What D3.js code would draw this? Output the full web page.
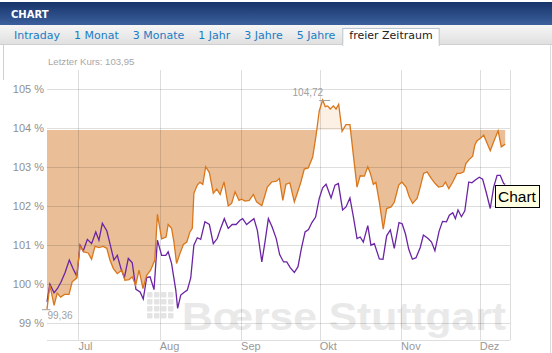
<!DOCTYPE html>
<html lang="de">
<head>
<meta charset="utf-8">
<script src="https://cdnjs.cloudflare.com/ajax/libs/d3/7.8.5/d3.min.js"></script>
<style>
  body { margin: 0; background: #fff; }
  svg { display: block; }
</style>
</head>
<body>
<script>
// tabs and axis labels
const tabs = ["Intraday", "1 Monat", "3 Monate", "1 Jahr", "3 Jahre", "5 Jahre", "freier Zeitraum"];
const activeTab = "freier Zeitraum";
const months = ["Jul", "Aug", "Sep", "Okt", "Nov", "Dez"];
const monthDays = [12, 43, 74, 104, 135, 165];   // days since 19 June
const yTicks = [99, 100, 101, 102, 103, 104, 105];
const lastPrice = 103.95;

// [days since 19 June, value in %]
const orange = [
  [0,99.36],[1.1,99.97],[2.7,99.46],[3.9,99.77],[5.2,99.67],[6.7,99.74],[8.4,99.74],[9.6,100.06],
  [11.2,100.15],[12.6,100.97],[14.1,100.83],[15.7,100.80],[17.0,100.64],[18.3,100.97],[19.8,100.94],
  [21.4,100.97],[22.8,100.92],[24.0,100.62],[25.3,100.40],[26.8,100.27],[28.5,100.36],[29.7,100.10],
  [31.3,100.12],[32.5,100.19],[33.8,99.97],[35.1,100.36],[36.6,99.89],[38.0,100.23],[39.5,100.36],
  [41.1,100.62],[42.1,101.79],[43.7,101.16],[45.4,101.21],[46.2,101.53],[47.5,101.43],[48.4,101.08],
  [49.4,100.53],[50.7,100.79],[52.0,101.02],[53.3,101.08],[54.5,101.34],[55.4,101.43],[56.0,102.33],
  [57.3,102.54],[58.3,102.61],[59.4,102.56],[60.5,103.01],[61.9,102.86],[63.4,102.33],[64.7,102.44],
  [66.0,102.30],[67.5,102.62],[69.1,102.01],[70.4,102.07],[71.7,102.37],[73.2,102.15],[74.2,102.18],
  [75.5,102.13],[77.1,102.15],[78.7,102.30],[79.9,102.11],[81.9,102.01],[83.1,102.28],[84.0,102.49],
  [85.7,102.62],[87.5,102.64],[88.6,102.71],[89.9,102.15],[91.1,102.56],[92.6,102.60],[94.3,102.11],
  [95.6,102.37],[96.8,102.62],[98.1,102.95],[99.6,102.98],[101.3,103.26],[102.6,103.82],[103.8,104.44],
  [105.1,104.72],[106.1,104.55],[107.0,104.57],[108.0,104.49],[109.2,104.57],[110.2,104.49],[111.2,104.61],
  [112.5,103.92],[114.0,104.09],[115.5,104.09],[116.8,103.31],[118.2,102.49],[119.4,102.78],[121.0,102.77],
  [122.3,103.01],[123.3,102.84],[124.4,102.56],[125.4,102.61],[126.7,102.11],[128.2,101.41],[129.5,101.94],
  [131.2,101.98],[132.4,102.10],[134.1,102.54],[135.3,102.62],[136.9,102.49],[138.1,102.24],[139.4,102.07],
  [141.1,102.20],[142.3,102.49],[143.6,102.84],[144.9,102.88],[146.5,102.71],[148.0,102.58],[149.3,102.49],
  [150.9,102.51],[151.9,102.62],[153.2,102.45],[154.7,102.62],[156.3,102.84],[157.6,102.84],[158.9,102.88],
  [159.7,103.09],[161.0,103.20],[162.3,103.28],[163.1,103.56],[163.9,103.67],[165.6,103.76],[166.5,103.82],
  [167.8,103.61],[169.0,103.42],[170.3,103.65],[172.0,103.93],[173.2,103.52],[174.7,103.59]
];

const purple = [
  [0,99.55],[1.1,100.00],[2.7,99.78],[4.0,99.89],[5.3,100.05],[6.9,100.30],[8.5,100.62],[9.9,100.40],
  [11.4,100.20],[12.6,101.00],[13.8,100.85],[15.4,101.15],[17.0,101.04],[18.6,101.34],[19.8,101.13],
  [21.1,101.56],[22.8,101.37],[24.0,101.04],[25.5,100.62],[26.8,100.74],[28.2,100.40],[29.5,100.17],
  [31.0,100.66],[32.5,100.55],[33.9,99.87],[35.5,99.80],[36.7,99.62],[38.0,100.17],[39.3,100.19],
  [40.8,99.86],[42.1,101.13],[43.7,100.74],[45.3,100.74],[46.2,100.83],[47.5,100.53],[49.1,99.85],
  [49.8,99.38],[51.0,99.72],[52.2,99.79],[53.5,99.85],[54.8,100.16],[56.0,101.00],[57.3,101.19],
  [58.6,101.15],[60.2,101.60],[61.9,101.53],[63.4,101.04],[64.9,101.17],[66.2,101.43],[67.6,101.68],
  [69.1,101.43],[70.6,101.53],[72.1,101.53],[73.6,101.64],[74.6,101.68],[76.1,101.53],[77.4,101.60],
  [78.9,101.68],[80.2,101.38],[81.9,100.57],[83.1,101.08],[84.4,101.68],[85.8,101.47],[87.4,101.17],
  [88.7,100.76],[90.2,100.57],[91.4,100.57],[92.8,100.42],[94.3,100.30],[95.7,100.45],[97.0,100.92],
  [98.4,101.34],[99.7,101.40],[101.0,101.58],[102.4,101.72],[103.8,102.20],[105.1,102.47],[106.4,102.56],
  [108.3,102.21],[109.8,102.54],[111.1,102.58],[112.7,101.90],[114.0,101.98],[115.5,102.21],[116.8,101.73],
  [118.2,101.17],[119.4,101.21],[120.6,101.08],[122.3,101.50],[123.5,101.00],[124.8,101.04],[126.7,100.65],
  [128.1,100.64],[129.5,101.24],[130.9,101.39],[132.4,100.92],[134.2,101.58],[135.4,101.55],[136.7,101.28],
  [137.9,100.90],[139.3,100.64],[140.7,100.68],[142.3,100.94],[143.5,101.26],[145.3,101.17],[146.6,101.08],
  [147.9,100.86],[149.5,101.36],[150.8,101.61],[152.3,101.60],[153.4,101.77],[154.7,101.83],[155.7,101.68],
  [156.7,101.90],[158.0,101.73],[159.3,101.88],[160.1,102.28],[160.8,102.62],[162.0,102.60],[163.3,102.67],
  [164.8,102.74],[166.1,102.69],[167.4,102.37],[169.0,101.94],[170.3,102.49],[171.6,102.79],[172.8,102.79],
  [174.1,102.58],[174.7,102.56]
];

const W = 552, H = 353;
const plot = { left: 47, right: 510, top: 70, bottom: 340 };

const svg = d3.select("body").append("svg")
  .attr("width", W)
  .attr("height", H);

const defs = svg.append("defs");

const hg = defs.append("linearGradient").attr("id", "headGrad")
  .attr("x1", 0).attr("y1", 0).attr("x2", 0).attr("y2", 1);
hg.append("stop").attr("offset", "0%").attr("stop-color", "#17336a");
hg.append("stop").attr("offset", "100%").attr("stop-color", "#3b609c");

const tg = defs.append("linearGradient").attr("id", "tabGrad")
  .attr("x1", 0).attr("y1", 0).attr("x2", 0).attr("y2", 1);
tg.append("stop").attr("offset", "0%").attr("stop-color", "#f6f6f6");
tg.append("stop").attr("offset", "100%").attr("stop-color", "#e0e0e0");

// header
svg.append("rect").attr("x", 0).attr("y", 2).attr("width", W).attr("height", 23)
  .attr("fill", "url(#headGrad)");
svg.append("text").attr("x", 11).attr("y", 17.5)
  .attr("font-family", "DejaVu Sans").attr("font-weight", "bold").attr("font-size", 10)
  .attr("fill", "#fff").text("CHART");

// tab bar
svg.append("rect").attr("x", 0).attr("y", 25).attr("width", W).attr("height", 19)
  .attr("fill", "url(#tabGrad)");
svg.append("line").attr("x1", 0).attr("x2", W).attr("y1", 44.5).attr("y2", 44.5)
  .attr("stroke", "#d0d0d0");

let tx = 14;
tabs.forEach(t => {
  const active = t === activeTab;
  const g = svg.append("g");
  const txt = g.append("text").attr("x", tx).attr("y", 39.3)
    .attr("font-family", "DejaVu Sans").attr("font-size", 11)
    .attr("fill", active ? "#222" : "#1a7cc4").text(t);
  const len = txt.node().getComputedTextLength();
  if (active) {
    g.insert("rect", "text").attr("x", tx - 6.5).attr("y", 28.5)
      .attr("width", len + 13).attr("height", 17)
      .attr("fill", "#fff").attr("stroke", "#b9c5cf");
    g.insert("rect", "text").attr("x", tx - 6).attr("y", 44).attr("width", len + 12).attr("height", 2)
      .attr("fill", "#fff");
  }
  tx += len + 14;
});

// frame lines of the box
svg.append("line").attr("x1", 3.5).attr("x2", 3.5).attr("y1", 45).attr("y2", 80).attr("stroke", "#cfcfcf");
svg.append("line").attr("x1", 550.5).attr("x2", 550.5).attr("y1", 45).attr("y2", H).attr("stroke", "#dcdcdc");

svg.append("text").attr("x", 48).attr("y", 65)
  .attr("font-family", "Liberation Sans").attr("font-size", 9.6)
  .attr("fill", "#a8a8a8").text("Letzter Kurs: " + d3.format(".2f")(lastPrice).replace(".", ","));

// scales
const x = d3.scaleLinear().domain([0, 175]).range([47, 506]);
const y = d3.scaleLinear().domain([98.57, 105.49]).range([plot.bottom, plot.top]);

// watermark
const wm = svg.append("g").attr("fill", "#e9e9e9");
d3.range(16).forEach(i => {
  wm.append("rect").attr("x", 147 + (i % 4) * 7).attr("y", 292 + Math.floor(i / 4) * 7)
    .attr("width", 5.5).attr("height", 5.5).attr("rx", 1).attr("fill", "#e4e4e4");
});
wm.append("text").attr("x", 182).attr("y", 330)
  .attr("font-family", "Liberation Sans").attr("font-weight", "bold").attr("font-size", 39)
  .attr("textLength", 324).attr("lengthAdjust", "spacingAndGlyphs")
  .text("Bœrse Stuttgart");

// area between orange line and last price level
const base = y(lastPrice);
defs.append("clipPath").attr("id", "below").append("rect")
  .attr("x", 0).attr("y", base).attr("width", W).attr("height", H);
defs.append("clipPath").attr("id", "above").append("rect")
  .attr("x", 0).attr("y", 0).attr("width", W).attr("height", base);

const area = d3.area().x(d => x(d[0])).y0(base).y1(d => y(d[1]));
svg.append("path").datum(orange).attr("d", area)
  .attr("fill", "#eabf97").attr("clip-path", "url(#below)");
svg.append("path").datum(orange).attr("d", area)
  .attr("fill", "#fcefe3").attr("clip-path", "url(#above)");

// grid
const grid = svg.append("g").attr("stroke", "rgba(0,0,0,0.13)").attr("stroke-width", 1);
yTicks.forEach(v => {
  const yy = Math.round(y(v)) + 0.5;
  grid.append("line").attr("x1", plot.left).attr("x2", plot.right).attr("y1", yy).attr("y2", yy);
});
monthDays.forEach(d => {
  const xx = Math.round(x(d)) + 0.5;
  grid.append("line").attr("x1", xx).attr("x2", xx).attr("y1", plot.top).attr("y2", plot.bottom);
});
grid.append("line").attr("x1", plot.left).attr("x2", plot.right)
  .attr("y1", plot.bottom + 0.5).attr("y2", plot.bottom + 0.5);
grid.append("line").attr("x1", plot.right + 0.5).attr("x2", plot.right + 0.5)
  .attr("y1", plot.top).attr("y2", plot.bottom);

// axis labels
svg.append("g").selectAll("text").data(yTicks).join("text")
  .attr("x", 44).attr("y", d => y(d) + 4)
  .attr("text-anchor", "end")
  .attr("font-family", "Liberation Sans").attr("font-size", 11).attr("fill", "#909090")
  .text(d => d + " %");

svg.append("g").selectAll("text").data(months).join("text")
  .attr("x", (d, i) => x(monthDays[i]))
  .attr("y", 350)
  .attr("font-family", "Liberation Sans").attr("font-size", 11).attr("fill", "#999")
  .text(d => d);

// lines
const line = d3.line().x(d => x(d[0])).y(d => y(d[1]));
svg.append("path").datum(purple).attr("d", line)
  .attr("fill", "none").attr("stroke", "#6a24a4").attr("stroke-width", 1.3);
svg.append("path").datum(orange).attr("d", line)
  .attr("fill", "none").attr("stroke", "#d9771c").attr("stroke-width", 1.3);

// high / low markers
const fmt = v => d3.format(".2f")(v).replace(".", ",");
const hi = orange.reduce((a, b) => b[1] > a[1] ? b : a);
const lo = orange.reduce((a, b) => b[1] < a[1] ? b : a);
svg.append("line").attr("x1", x(hi[0]) - 3.5).attr("x2", x(hi[0]) + 7.5)
  .attr("y1", y(hi[1]) + 0.5).attr("y2", y(hi[1]) + 0.5).attr("stroke", "#a0a0a0");
svg.append("text").attr("x", x(hi[0]) + 0.5).attr("y", y(hi[1]) - 4.5)
  .attr("text-anchor", "end")
  .attr("font-family", "Liberation Sans").attr("font-size", 10).attr("fill", "#a0a0a0")
  .text(fmt(hi[1]));
svg.append("line").attr("x1", x(lo[0]) - 5).attr("x2", x(lo[0]) + 3.5)
  .attr("y1", y(lo[1]) + 0.5).attr("y2", y(lo[1]) + 0.5).attr("stroke", "#a0a0a0");
svg.append("text").attr("x", x(lo[0]) + 0.5).attr("y", y(lo[1]) + 10)
  .attr("font-family", "Liberation Sans").attr("font-size", 10).attr("fill", "#a0a0a0")
  .text(fmt(lo[1]));

// hover tooltip
const tip = svg.append("g").attr("transform", "translate(495,185)");
tip.append("rect").attr("x", 0.5).attr("y", 0.5).attr("width", 44).attr("height", 22)
  .attr("fill", "#ffffe1").attr("stroke", "#000");
tip.append("text").attr("x", 3).attr("y", 17)
  .attr("font-family", "Liberation Sans").attr("font-size", 15.5).attr("fill", "#000")
  .text("Chart");
</script>
</body>
</html>
